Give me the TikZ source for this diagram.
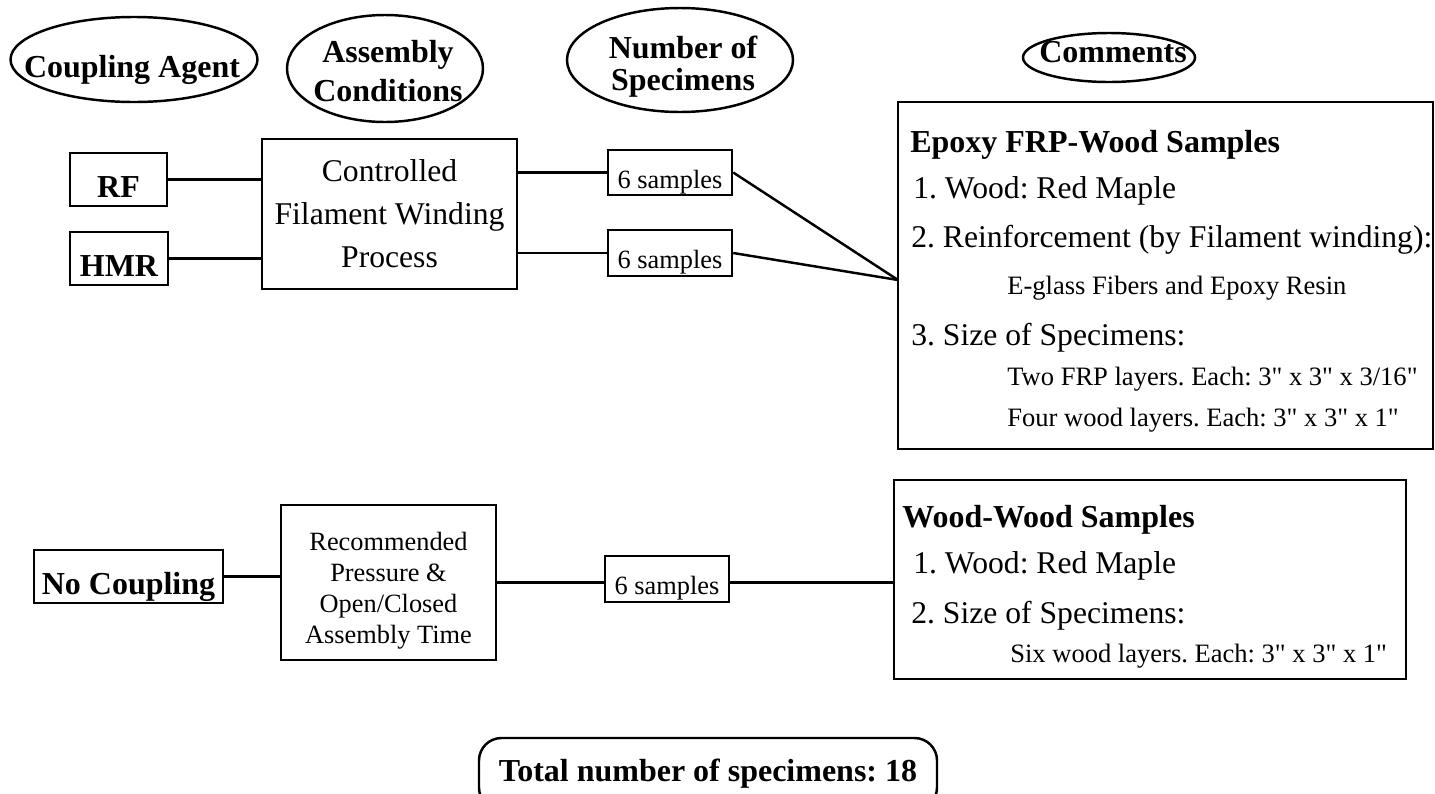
\documentclass[tikz,border=0pt]{standalone}
\usepackage{fontspec}
\setmainfont{Liberation Serif}
\usetikzlibrary{shapes.geometric}
\frenchspacing

\begin{document}
\begin{tikzpicture}[x=0.2mm, y=-0.2mm,
        hdr/.style={ellipse, draw, line width=1.4pt, inner sep=0pt},
        hdrtxt/.style={font=\bfseries\fontsize{18.2}{22.2}\selectfont, align=center, inner sep=0pt},
        box/.style={rectangle, draw, line width=1.4pt, inner sep=0pt},
        agent/.style={box, font=\bfseries\fontsize{18.2}{22}\selectfont,
                      text height=7mm, text depth=0pt, minimum height=10.6mm},
        sampbox/.style={box, font=\fontsize{15}{18}\selectfont,
                        text height=6.2mm, text depth=0pt, minimum width=24.8mm},
        wire/.style={line width=1.4pt},
        bigline/.style={font=\fontsize{18}{22}\selectfont, anchor=base west, inner sep=0pt},
        subline/.style={font=\fontsize{15.1}{18}\selectfont, anchor=base west, inner sep=0pt},
        boxtitle/.style={bigline, font=\bfseries\fontsize{18.2}{22}\selectfont}
    ]
        \useasboundingbox (0,0) rectangle (1435,793);
        \clip (0,0) rectangle (1435,793);

        % column heads
        \node[hdr, minimum width=49.4mm, minimum height=17mm] (hagent) at (134,59.5) {};
        \node[hdr, minimum width=39.2mm, minimum height=21.4mm] (hassem) at (385,68.5) {};
        \node[hdr, minimum width=45.2mm, minimum height=20.8mm] (hnum) at (680,60) {};
        \node[hdr, minimum width=34.4mm, minimum height=9.8mm] (hcomm) at (1109,57.5) {};
        \node[hdrtxt, anchor=base] (tagent) at (132,77) {Coupling Agent};
        \node[hdrtxt] (tassem) at (388,71.5) {Assembly\\Conditions};
        \node[hdrtxt, font=\bfseries\fontsize{18.2}{18.2}\selectfont] (tnum) at (683,66.5) {Number of\\Specimens};
        \node[hdrtxt, anchor=base] (tcomm) at (1113,62) {Comments};

        % FRP-wood branch
        \node[agent, minimum width=19.4mm] (rf) at (118.5,179.5) {RF};
        \node[agent, minimum width=19.6mm] (hmr) at (119,258.5) {HMR};
        \node[box, minimum width=51mm, minimum height=30mm, align=center,
              font=\fontsize{18}{24.5}\selectfont] (ctrl) at (389.5,214)
              {Controlled\\Filament Winding\\Process};
        \node[sampbox, minimum height=9mm] (s1) at (670,172.5) {6 samples};
        \node[sampbox, minimum height=9.2mm] (s2) at (670,253) {6 samples};
        \node[box, minimum width=107mm, minimum height=69.4mm] (epoxy) at (1165.5,275.5) {};
        \coordinate (meet) at (898,280);

        \node[boxtitle] (e1) at (910,152) {Epoxy FRP-Wood Samples};
        \node[bigline] (e2) at (913,198) {1. Wood: Red Maple};
        \node[bigline] (e3) at (911,247) {2. Reinforcement (by Filament winding):};
        \node[subline] (e4) at (1007,294) {E-glass Fibers and Epoxy Resin};
        \node[bigline] (e5) at (911,345) {3. Size of Specimens:};
        \node[subline] (e6) at (1007,385) {Two FRP layers. Each: 3\textquotedbl{} x 3\textquotedbl{} x 3/16\textquotedbl};
        \node[subline] (e7) at (1007,426) {Four wood layers. Each: 3\textquotedbl{} x 3\textquotedbl{} x 1\textquotedbl};

        \draw[wire] (rf.east) -- (rf.east -| ctrl.west);
        \draw[wire] (hmr.east) -- (hmr.east -| ctrl.west);
        \draw[wire] (s1.west -| ctrl.east) -- (s1.west);
        \draw[wire] (s2.west -| ctrl.east) -- (s2.west);
        \draw[wire] (s1.east) -- (meet);
        \draw[wire] (s2.east) -- (meet);

        % wood-wood branch
        \node[agent, minimum width=37.8mm] (nocoup) at (128.5,576.5) {No Coupling};
        \node[box, minimum width=43mm, minimum height=31mm] (rec) at (388.5,582.5) {};
        \node[align=center, inner sep=0pt, font=\fontsize{15}{17.6}\selectfont] (rectxt) at (388.5,590.5)
              {Recommended\\Pressure \&\\Open/Closed\\Assembly Time};
        \node[sampbox, minimum height=9.2mm] (s3) at (667,579) {6 samples};
        \node[box, minimum width=102.4mm, minimum height=39.8mm] (wood) at (1150,579.5) {};

        \node[boxtitle] (w1) at (902,527) {Wood-Wood Samples};
        \node[bigline] (w2) at (913,573) {1. Wood: Red Maple};
        \node[bigline] (w3) at (911,623) {2. Size of Specimens:};
        \node[subline] (w4) at (1010,662) {Six wood layers. Each: 3\textquotedbl{} x 3\textquotedbl{} x 1\textquotedbl};

        \draw[wire] (nocoup.east) -- (nocoup.east -| rec.west);
        \draw[wire] (rec.east) -- (rec.east -| s3.west);
        \draw[wire] (rec.east -| s3.east) -- (rec.east -| wood.west);

        % total
        \node[box, rounded corners=4.5mm, minimum width=91.6mm, minimum height=14.4mm,
              font=\bfseries\fontsize{18.2}{22}\selectfont] (total) at (708,774)
              {Total number of specimens: 18};
    \end{tikzpicture}
\end{document}
